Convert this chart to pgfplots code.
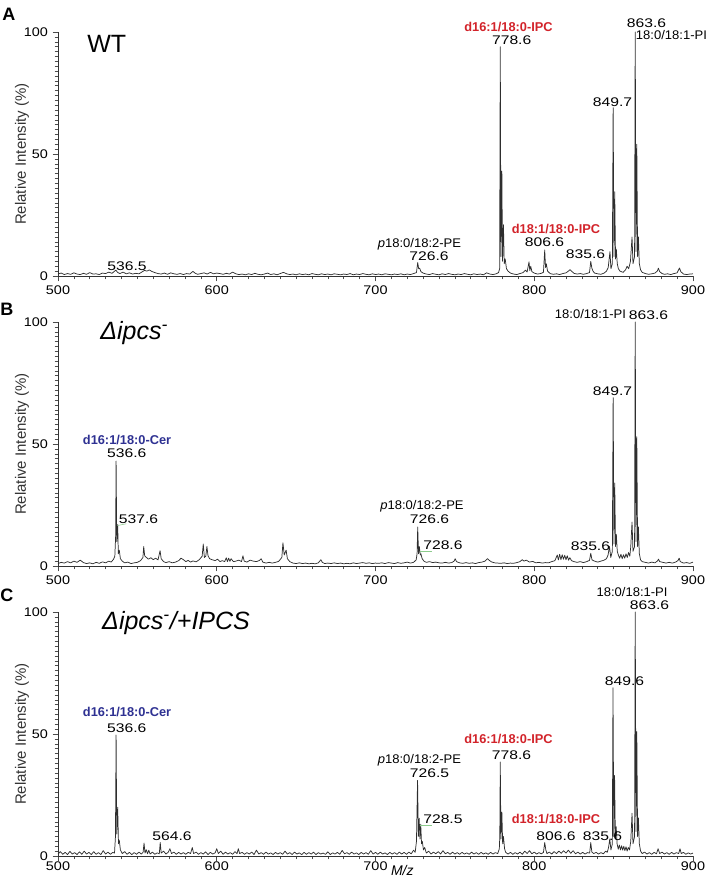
\documentclass[border=0pt]{standalone}
\usepackage{fontspec}
\setmainfont{Liberation Sans}
\newfontfamily\tickfam[FakeStretch=1.15]{Liberation Sans}
\newfontfamily\numfam[FakeStretch=1.25]{Liberation Sans}
\newfontfamily\lblfam[FakeStretch=1.04]{Liberation Sans}
\usepackage{pgfplots}
\pgfplotsset{compat=1.18}
\definecolor{specgray}{HTML}{2E2E2E}
\definecolor{ipcred}{HTML}{D2232A}
\definecolor{cerblue}{HTML}{2E3192}
\definecolor{leadgreen}{HTML}{8CCB8C}
\newcommand\tickf{\tickfam\fontsize{9.4pt}{11pt}\selectfont}
\newcommand\nf{\numfam\fontsize{9.4pt}{11pt}\selectfont}
\newcommand\lf{\lblfam\fontsize{9.4pt}{11pt}\selectfont}
\newcommand\cf{\fontsize{9.6pt}{11pt}\selectfont\bfseries}
\newcommand\tf{\fontsize{18.75pt}{20pt}\selectfont}
\pgfplotsset{
  ms/.style={
    scale only axis, width=476.25pt, height=183pt,
    anchor=south west,
    xmin=500, xmax=900, ymin=0, ymax=100,
    axis x line*=bottom, axis y line*=left,
    axis line style={-, draw=black!80, line width=0.5pt},
    every inner x axis line/.append style={-},
    every outer x axis line/.append style={-},
    every inner y axis line/.append style={-},
    every outer y axis line/.append style={-},
    xtick={500,600,700,800,900}, ytick={0,50,100},
    minor x tick num=9, minor y tick num=24,
    tick align=outside,
    major tick length=4pt, minor tick length=2.5pt,
    tick style={draw=black!70, line width=0.4pt},
    /pgf/number format/assume math mode=true,
    ticklabel style={font=\tickf},
    ylabel={Relative Intensity (\%)},
    ylabel style={at={(axis description cs:-0.0567,0.5)}, anchor=center, font=\fontsize{11.25pt}{12pt}\selectfont, text=black!80},
    clip=false,
  },
  spec/.style={draw=specgray, line width=0.55pt, mark=none, line join=round},
}
\begin{document}
\begin{tikzpicture}
\useasboundingbox (0,0) rectangle (529.5pt,-659.25pt);
% Panel letters
\node[anchor=base west,inner sep=0,font=\fontsize{13.5pt}{15pt}\selectfont\bfseries] at (1.5pt,-15pt) {A};
\node[anchor=base west,inner sep=0,font=\fontsize{13.5pt}{15pt}\selectfont\bfseries] at (0pt,-236.25pt) {B};
\node[anchor=base west,inner sep=0,font=\fontsize{13.5pt}{15pt}\selectfont\bfseries] at (0pt,-450.75pt) {C};

% ---------------- Panel A ----------------
\begin{axis}[ms, at={(43.5pt,-207pt)}]
\addplot[spec] coordinates {
(500,0.8)(502,1.2)(504,0.6)(506,1.0)(508,0.7)(510,1.3)(512,0.8)(514,0.6)(516,1.1)(518,0.7)
(520,1.4)(522,0.8)(524,0.9)(526,0.6)(528,1.2)(530,1.0)(532,1.6)(534,1.1)(535.5,1.9)(536.5,2.4)
(537.5,1.5)(539,1.0)(541,1.6)(543,0.9)(545,1.3)(547,0.8)(549,1.1)(551,0.9)(553,1.7)(554.5,2.3)
(556,2.0)(557.5,2.5)(559,1.9)(561,1.4)(563,1.0)(565,0.8)(567,1.2)(569,0.7)(571,1.3)(573,0.9)
(575,0.7)(577,1.0)(579,0.6)(581,1.0)(583,0.8)(585,1.9)(586.5,1.1)(588,0.7)(590,1.0)(592,1.3)
(594,0.8)(596,1.5)(598,0.9)(600,1.2)(602,1.0)(604,0.7)(606,1.1)(608,0.8)(610,1.6)(612,0.9)
(614,0.6)(616,0.8)(618,0.5)(620,0.9)(622,0.6)(624,1.1)(626,0.7)(628,0.5)(630,0.8)(632,1.2)
(634,0.6)(636,0.9)(638,0.5)(640,1.0)(642,1.5)(644,0.9)(646,0.6)(648,0.8)(650,0.5)(652,0.9)
(654,0.6)(656,0.8)(658,0.5)(660,1.0)(662,0.7)(664,0.5)(666,0.9)(668,0.6)(670,0.8)(672,0.5)
(674,0.9)(676,0.7)(678,0.5)(680,0.8)(682,0.6)(684,1.0)(686,0.5)(688,0.8)(690,0.6)(692,1.0)
(694,0.7)(696,0.5)(698,0.9)(700,0.6)(702,0.8)(704,0.5)(706,0.9)(708,0.7)(710,0.5)(712,0.8)
(714,0.6)(716,0.9)(718,0.5)(720,0.8)(722,0.6)(724,1.0)(725.8,1.4)(726.6,5.5)(727.2,3.0)(727.8,3.2)
(728.6,1.8)(730,1.2)(732,0.8)(734,0.6)(736,1.0)(738,0.7)(740,0.5)(742,0.9)(744,0.6)(746,1.0)
(748,0.7)(750,0.5)(752,0.8)(754,0.6)(756,1.0)(758,0.7)(760,0.5)(762,0.9)(764,0.6)(766,0.8)
(768,0.5)(770,1.3)(772,0.8)(774,0.6)(776,0.9)(777.5,1.4)(778.2,3)(778.6,94)(779.0,8)(779.6,43)
(780.0,6)(780.6,21)(781.1,5)(781.7,7)(782.5,3)(783.5,2.0)(785,1.2)(787,0.8)(789,0.6)(791,1.0)
(793,1.4)(794.5,2.4)(795.5,1.6)(796.7,5.8)(797.2,2.2)(797.8,4.0)(798.5,1.8)(800,1.2)(802,0.8)(804,1.0)
(805.8,1.5)(806.6,10.7)(807.1,3.5)(807.6,5.0)(808.4,2.0)(810,1.0)(812,0.7)(814,0.9)(816,0.6)(818,1.0)
(820,1.3)(821.5,2.0)(822.5,2.6)(823.5,2.0)(825,1.1)(827,0.8)(829,1.0)(831,0.7)(833,1.0)(834.8,1.4)
(835.6,6.0)(836.3,3.2)(837,2.0)(838,1.2)(840,0.9)(842,0.7)(844,1.2)(845.5,2.0)(846.6,3.5)(847.7,10)
(848.3,3)(849.2,5)(849.7,69)(850.2,8)(850.7,34.5)(851.2,7)(851.7,11)(852.3,5)(853,3)(854,2)
(856,1.5)(857.5,2.5)(858.5,4.0)(859.5,3.0)(860.6,6)(861.6,16)(862.2,5)(863.2,8)(863.6,100)(864.1,10)
(864.6,54)(865.1,8)(865.6,16)(866.2,5)(867,2.5)(868,1.5)(870,1.0)(872,0.7)(874,0.9)(876,1.2)
(877.5,2.0)(878.2,3.2)(879,1.8)(880.5,1.0)(882,0.7)(884,0.9)(886,0.6)(888,1.0)(890,1.3)(891.5,3.3)
(892.3,1.8)(894,0.8)(896,0.6)(898,0.8)(900,0.9)
};
\node[anchor=base west,inner sep=0,font=\tf] at (axis cs:518.3,91.4) {WT};
\node[anchor=base,inner sep=0,font=\nf] at (axis cs:543.5,2.2) {536.5};
\node[anchor=base,inner sep=0,font=\lf] at (axis cs:727.7,11.5) {\textit{p}18:0/18:2-PE};
\node[anchor=base,inner sep=0,font=\nf] at (axis cs:733.7,6.2) {726.6};
\node[anchor=base,inner sep=0,font=\cf,text=ipcred] at (axis cs:783.8,100.1) {d16:1/18:0-IPC};
\node[anchor=base,inner sep=0,font=\nf] at (axis cs:785.8,94.7) {778.6};
\node[anchor=base,inner sep=0,font=\cf,text=ipcred] at (axis cs:813.7,17.6) {d18:1/18:0-IPC};
\node[anchor=base,inner sep=0,font=\nf] at (axis cs:806.5,11.9) {806.6};
\node[anchor=base,inner sep=0,font=\nf] at (axis cs:832.3,7.0) {835.6};
\node[anchor=base,inner sep=0,font=\nf] at (axis cs:849.3,69.4) {849.7};
\node[anchor=base,inner sep=0,font=\nf] at (axis cs:870.7,102) {863.6};
\node[anchor=base west,inner sep=0,font=\lf] at (axis cs:863.9,97) {18:0/18:1-PI};
\end{axis}

% ---------------- Panel B ----------------
\begin{axis}[ms, at={(43.5pt,-424.5pt)}]
\addplot[spec] coordinates {
(500,1.0)(502,1.5)(504,1.2)(506,1.8)(508,1.3)(510,2.0)(512,1.5)(514,2.4)(516,1.4)(518,1.0)
(520,1.3)(522,0.9)(524,1.5)(526,1.1)(528,1.7)(530,1.3)(532,2.0)(533.5,1.6)(535,2.8)(535.8,4.0)
(536.3,12)(536.6,43)(537.0,10)(537.6,17)(538.0,5)(538.6,6.5)(539.3,3)(540.5,2)(542,1.3)(544,1.6)
(546,1.0)(548,1.3)(550,1.5)(552,2.2)(553.5,3.5)(554,8)(554.6,4.2)(555.5,3.6)(557,2.8)(558.5,3.4)
(560,2.6)(561.5,3.2)(563,2.5)(564.3,6.3)(565,3.0)(566.5,1.8)(568,1.4)(570,1.8)(572,1.3)(574,1.6)
(576,2.2)(577.5,3.2)(579,2.6)(580.5,1.8)(582,2.3)(583.5,1.6)(585,2.1)(587,1.7)(589,2.6)(590.8,4.0)
(591.5,9.0)(592.2,3.5)(593.1,4)(593.8,8)(594.5,4.2)(595.5,3.0)(597,2.6)(599,2.2)(600.5,2.8)(602,1.8)
(603.5,2.2)(605,1.8)(606,3.4)(606.7,1.8)(607.5,3.2)(608.3,1.9)(609,3.0)(610.5,1.8)(612,2.0)(614,2.4)
(615.6,1.8)(616.5,4.2)(617.3,2.0)(619,1.6)(621,2.4)(623,2.0)(625,1.8)(627,2.3)(628,3)(629,1.6)
(631,1.2)(633,1.5)(635,1.2)(637,1.5)(639,1.9)(641,3.5)(641.7,9.5)(642.5,4.5)(643.7,6.5)(644.5,3.0)
(646,1.8)(648,1.2)(650,1.0)(652,1.3)(654,1.0)(656,1.2)(658,0.9)(660,1.1)(662,0.9)(664,1.3)
(665.6,2.6)(666.5,1.5)(668,1.0)(670,1.2)(672,1.0)(674,1.3)(676,1.0)(678,1.2)(680,0.9)(682,1.1)
(684,0.9)(686,1.3)(688,1.0)(690,1.2)(692,1.4)(694,1.1)(696,1.3)(698,1.0)(700,1.2)(702,1.1)
(704,1.3)(706,1.0)(708,1.4)(710,1.2)(712,1.0)(714,1.4)(716,1.1)(718,1.3)(720,1.6)(722,1.2)
(724,1.5)(725.6,2.5)(726.2,5)(726.6,16)(727.1,5)(727.6,8)(728.2,4.5)(728.6,5)(729.4,3)(730.5,2)
(732,1.5)(734,1.8)(736,1.4)(738,1.6)(740,1.3)(742,1.2)(744,1.5)(746,1.2)(748,1.4)(749.5,2.0)
(750.2,3.0)(751,1.8)(753,1.3)(755,1.1)(757,1.4)(759,1.1)(761,1.3)(763,1.0)(765,1.4)(767,1.6)
(769,2.0)(770.5,3.0)(771.5,2.4)(773,1.7)(775,1.3)(777,1.2)(779,1.1)(781,1.3)(783,1.0)(785,1.2)
(787,1.1)(789,1.4)(791,1.8)(792.5,2.6)(793.5,2.0)(795,2.4)(797,1.6)(799,1.9)(801,1.3)(803,1.5)
(805,1.2)(807,1.4)(809,1.3)(811,1.8)(813,2.2)(814.5,4.5)(815.2,2.5)(816,4.8)(816.8,2.6)(817.6,4.6)
(818.4,2.8)(819.2,4.4)(820,2.6)(820.8,4.2)(821.6,2.4)(822.4,3.4)(823.5,2.2)(825,1.8)(827,1.5)(829,1.8)
(831,1.4)(833,1.8)(834.8,2.3)(835.6,5.2)(836.4,2.5)(838,2.0)(840,1.6)(842,2.0)(844,2.4)(845.5,3.0)
(846.5,4.5)(847.4,8)(848.2,3.5)(849.2,6)(849.7,69)(850.2,9)(850.7,34)(851.2,8)(851.7,13)(852.3,6)
(853,4.5)(853.8,3.2)(854.6,4.8)(855.4,3.0)(856.2,4.6)(857,3.2)(857.8,5.0)(858.6,3.5)(859.4,5.5)(860.2,4)
(860.8,8)(861.6,18)(862.2,6)(863.2,8)(863.6,100)(864.1,10)(864.6,53)(865.1,8)(865.6,16)(866.2,5)
(867,2.5)(868,1.8)(870,1.5)(872,1.2)(874,1.6)(876,1.3)(877.5,2.0)(878.3,2.8)(879,1.8)(881,1.5)
(883,1.2)(885,1.5)(887,1.2)(889,1.6)(890.5,2.2)(891.3,3.2)(892,1.8)(894,1.2)(896,1.4)(898,1.1)
(900,1.6)
};
\node[anchor=base west,inner sep=0,font=\tf\itshape] at (axis cs:526.5,93) {Δipcs\textsuperscript{-}};
\node[anchor=base,inner sep=0,font=\cf,text=cerblue] at (axis cs:543.5,49.8) {d16:1/18:0-Cer};
\node[anchor=base,inner sep=0,font=\nf] at (axis cs:543.3,44.3) {536.6};
\draw[leadgreen, line width=0.4pt] (axis cs:537.6,16.6) -- (axis cs:543,17.3);
\node[anchor=base,inner sep=0,font=\nf] at (axis cs:550.7,17.6) {537.6};
\node[anchor=base,inner sep=0,font=\lf] at (axis cs:729.3,23) {\textit{p}18:0/18:2-PE};
\node[anchor=base,inner sep=0,font=\nf] at (axis cs:734,17.6) {726.6};
\draw[leadgreen, line width=0.4pt] (axis cs:727.8,6.2) -- (axis cs:735.4,6.2);
\node[anchor=base,inner sep=0,font=\nf] at (axis cs:742.5,6.6) {728.6};
\node[anchor=base,inner sep=0,font=\nf] at (axis cs:835.4,6.3) {835.6};
\node[anchor=base,inner sep=0,font=\nf] at (axis cs:849.3,69.7) {849.7};
\node[anchor=base,inner sep=0,font=\lf] at (axis cs:835.4,101.5) {18:0/18:1-PI};
\node[anchor=base,inner sep=0,font=\nf] at (axis cs:872,101.2) {863.6};
\end{axis}

% ---------------- Panel C ----------------
\begin{axis}[ms, at={(43.5pt,-642pt)}, xticklabel style={yshift=3pt}]
\addplot[spec] coordinates {
(500,0.8)(501.5,1.8)(503,0.7)(504.5,1.5)(506,0.6)(507.5,1.9)(509,0.8)(510.5,1.4)(512,0.6)(513.5,1.7)
(515,0.7)(516.5,2.0)(518,0.8)(519.5,1.5)(521,0.6)(522.5,1.8)(524,0.7)(525.5,1.4)(527,0.6)(528.5,2.2)
(530,0.8)(531.5,1.6)(533,0.7)(534.5,1.5)(535.6,1.2)(536.2,8)(536.6,49.6)(537.0,9)(537.6,20)(538.1,5)
(538.6,6.5)(539.3,2.5)(540.5,1.0)(542,1.8)(543.5,0.7)(545,1.5)(546.5,0.6)(548,1.4)(549.5,0.7)(551,1.6)
(552.5,0.8)(553.6,1.5)(554.2,5.3)(554.8,1.2)(555.6,2.6)(556.4,0.9)(557.2,2.4)(558,0.8)(559.5,1.6)(561,0.7)
(562.5,1.3)(563.8,0.9)(564.4,5.5)(565,1.2)(566.5,2.0)(568,0.8)(569.5,1.6)(570.5,3.0)(571.5,1.0)(573,1.6)
(574.5,0.7)(576,1.5)(577.5,0.8)(579,1.4)(580.5,0.7)(582,1.5)(583.5,1.0)(584.6,3.5)(585.4,1.0)(587,1.6)
(588.5,0.7)(590,1.4)(591.5,0.8)(593,1.7)(594.5,0.6)(596,1.5)(597.5,0.8)(599,1.3)(600,3.0)(601,1.0)
(602.5,2.0)(604,0.7)(605.5,1.6)(607,0.8)(608.5,1.4)(610,0.7)(611.5,1.8)(612.8,1.0)(613.6,3.0)(614.4,1.0)
(616,1.5)(617.5,0.7)(619,1.4)(620.5,0.8)(622,1.6)(623.5,0.6)(625,2.4)(626.5,0.8)(628,1.4)(629.5,0.7)
(631,1.6)(632.5,0.8)(634,1.3)(635.5,0.6)(637,1.5)(638.5,0.8)(640,1.4)(641.5,0.7)(643,2.0)(644.5,0.8)
(646,1.4)(647.5,0.6)(649,1.6)(650.5,0.8)(652,1.3)(653.5,0.6)(655,1.5)(656.5,0.7)(658,1.4)(659.5,0.8)
(661,1.6)(662.5,0.6)(664,1.4)(665.5,0.8)(667,1.2)(668.5,0.7)(670,1.7)(671.5,0.6)(673,1.3)(674.5,0.8)
(676,1.5)(677.5,0.7)(679,2.3)(680.5,0.9)(682,1.4)(683.5,0.7)(685,1.6)(686.5,0.8)(688,1.3)(689.5,0.6)
(691,1.5)(692.5,0.8)(694,1.4)(695.5,0.7)(697,2.2)(698.5,0.8)(700,1.5)(701.5,0.7)(703,1.6)(704.5,0.8)
(706,1.3)(707.5,0.6)(709,1.5)(710.5,0.8)(712,1.4)(713.5,0.7)(715,1.6)(716.5,0.8)(718,1.5)(719.5,0.7)
(721,1.6)(722.5,0.9)(724,2.4)(725,1.5)(725.8,6)(726.5,31)(727.0,8)(727.5,15.5)(728.0,7)(728.5,13)
(729.0,5)(729.5,6)(730.2,2.5)(731,3.5)(732,1.2)(733.5,2.0)(735,0.8)(736.5,1.6)(738,0.9)(739.5,1.8)
(741,0.8)(742.5,2.2)(744,0.9)(745.5,1.5)(747,0.7)(748.5,1.6)(750,0.8)(751.5,1.4)(753,0.7)(754.5,1.5)
(756,0.8)(757.5,1.3)(759,0.7)(760.5,1.6)(762,0.8)(763.5,1.4)(765,0.7)(766.5,1.5)(768,0.8)(769.5,1.3)
(771,0.7)(772.5,1.5)(774,0.8)(775.5,1.4)(777,1.0)(778.0,3)(778.3,8)(778.6,38.5)(779.0,7)(779.6,18)
(780.1,5)(780.6,8)(781.3,3)(782,1.5)(783.5,0.8)(785,1.5)(786.5,0.7)(788,1.4)(789.5,0.8)(791,1.6)
(792.5,0.7)(794,2.0)(795.5,1.0)(797,2.2)(798.5,0.9)(800,1.6)(801.5,0.8)(803,1.4)(804.5,0.9)(805.8,1.5)
(806.6,5.5)(807.3,2.5)(808,1.0)(809.5,1.6)(811,0.8)(812.5,1.8)(814,1.0)(815.5,2.0)(817,1.1)(818.5,2.2)
(820,1.2)(821.5,2.4)(823,1.1)(824.5,2.2)(826,0.9)(827.5,1.6)(829,0.8)(830.5,1.5)(832,0.8)(833.5,1.4)
(834.9,1.2)(835.6,5.5)(836.3,1.6)(837.5,1.0)(839,1.5)(840.5,0.8)(842,1.4)(843.5,0.9)(845,2.0)(846,1.5)
(846.8,3.5)(847.6,7)(848.3,2.5)(849.2,5)(849.6,69)(850.1,8)(850.6,33)(851.1,7)(851.6,12)(852.2,5)
(852.9,2.8)(853.6,4.5)(854.3,2.5)(855,4.2)(855.7,2.4)(856.4,4.0)(857.1,2.2)(857.8,3.8)(858.5,2.0)(859.2,3.5)
(860,2.5)(860.8,6)(861.6,17.5)(862.2,5)(863.2,8)(863.6,100)(864.1,10)(864.6,51)(865.1,8)(865.6,15.6)
(866.2,5)(867,2.0)(868,1.0)(869.5,1.6)(871,0.8)(872.5,1.4)(874,0.7)(875.5,1.5)(877,0.9)(878,3.0)
(879,1.0)(880.5,1.6)(882,0.8)(883.5,1.4)(885,0.7)(886.5,1.5)(888,0.8)(889.5,1.4)(891,1.0)(891.8,3.0)
(892.6,1.0)(894,1.5)(895.5,0.7)(897,1.3)(898.5,0.8)(900,1.2)
};
\node[anchor=base west,inner sep=0,font=\tf\itshape] at (axis cs:527.7,93) {Δipcs\textsuperscript{-}/+IPCS};
\node[anchor=base,inner sep=0,font=\cf,text=cerblue] at (axis cs:543.5,57.1) {d16:1/18:0-Cer};
\node[anchor=base,inner sep=0,font=\nf] at (axis cs:543.3,50.5) {536.6};
\node[anchor=base,inner sep=0,font=\nf] at (axis cs:571.8,6.3) {564.6};
\node[anchor=base,inner sep=0,font=\lf] at (axis cs:727.7,38) {\textit{p}18:0/18:2-PE};
\node[anchor=base,inner sep=0,font=\nf] at (axis cs:734,32.3) {726.5};
\draw[leadgreen, line width=0.4pt] (axis cs:727.8,12.7) -- (axis cs:735.4,12.7);
\node[anchor=base,inner sep=0,font=\nf] at (axis cs:742.5,13.4) {728.5};
\node[anchor=base,inner sep=0,font=\cf,text=ipcred] at (axis cs:783.8,46.2) {d16:1/18:0-IPC};
\node[anchor=base,inner sep=0,font=\nf] at (axis cs:785.7,39.6) {778.6};
\node[anchor=base,inner sep=0,font=\cf,text=ipcred] at (axis cs:813.7,13.4) {d18:1/18:0-IPC};
\node[anchor=base,inner sep=0,font=\nf] at (axis cs:813.7,6.3) {806.6};
\node[anchor=base,inner sep=0,font=\nf] at (axis cs:843,6.3) {835.6};
\node[anchor=base,inner sep=0,font=\nf] at (axis cs:856.9,69.7) {849.6};
\node[anchor=base,inner sep=0,font=\lf] at (axis cs:861.6,106.3) {18:0/18:1-PI};
\node[anchor=base,inner sep=0,font=\nf] at (axis cs:872.6,101.1) {863.6};
\node[anchor=base west,inner sep=0,font=\itshape\fontsize{10.5pt}{12pt}\selectfont] at (axis cs:709.6,-8.0) {M/z};
\end{axis}
\end{tikzpicture}
\end{document}
